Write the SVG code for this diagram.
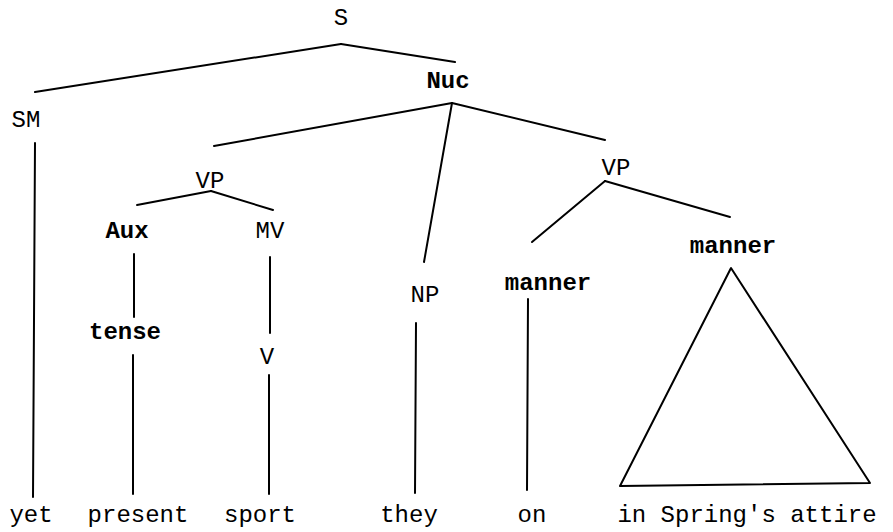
<svg xmlns="http://www.w3.org/2000/svg" width="893" height="532" viewBox="0 0 893 532">
<style>
text{font-family:"Liberation Mono","Courier New",monospace;font-size:24px;fill:#000;text-anchor:middle}
.b{font-weight:bold}
.e line,.e polygon{stroke:#000;stroke-width:2;fill:none;stroke-linecap:round;stroke-linejoin:round}
</style>
<rect width="893" height="532" fill="#fff"/>
<g id="edges" class="e">
<line x1="341" y1="44" x2="35" y2="92"/>
<line x1="341" y1="44" x2="455" y2="62"/>
<line x1="35" y1="143" x2="33" y2="497"/>
<line x1="452" y1="103" x2="214" y2="146"/>
<line x1="452" y1="103" x2="424" y2="262"/>
<line x1="452" y1="103" x2="605" y2="140"/>
<line x1="211" y1="191" x2="137" y2="205"/>
<line x1="211" y1="191" x2="273" y2="210"/>
<line x1="134" y1="254" x2="134" y2="317"/>
<line x1="133" y1="355" x2="133" y2="494"/>
<line x1="270" y1="257" x2="270" y2="333"/>
<line x1="269" y1="375" x2="269" y2="494"/>
<line x1="416" y1="323" x2="415" y2="493"/>
<line x1="605" y1="181" x2="532" y2="242"/>
<line x1="605" y1="181" x2="730" y2="217"/>
<line x1="528" y1="299" x2="527" y2="490"/>
<polygon points="731,268 620,486 870,483"/>
</g>
<g id="S"><text x="341" y="25">S</text></g>
<g id="SM"><text x="26" y="127">SM</text></g>
<g id="Nuc"><text class="b" x="448" y="88">Nuc</text></g>
<g id="VP1"><text x="210" y="188">VP</text></g>
<g id="Aux"><text class="b" x="127" y="238">Aux</text></g>
<g id="MV"><text x="270" y="238">MV</text></g>
<g id="tense"><text class="b" x="125" y="339">tense</text></g>
<g id="V"><text x="267" y="364">V</text></g>
<g id="NP"><text x="425" y="302">NP</text></g>
<g id="VP2"><text x="616" y="175">VP</text></g>
<g id="manner1"><text class="b" x="548" y="290">manner</text></g>
<g id="manner2"><text class="b" x="733" y="253">manner</text></g>
<g id="yet"><text x="31" y="522">yet</text></g>
<g id="present"><text x="138" y="522">present</text></g>
<g id="sport"><text x="260" y="522">sport</text></g>
<g id="they"><text x="409" y="522">they</text></g>
<g id="on"><text x="532" y="522">on</text></g>
<g id="attire"><text x="747" y="522">in Spring's attire</text></g>
</svg>
